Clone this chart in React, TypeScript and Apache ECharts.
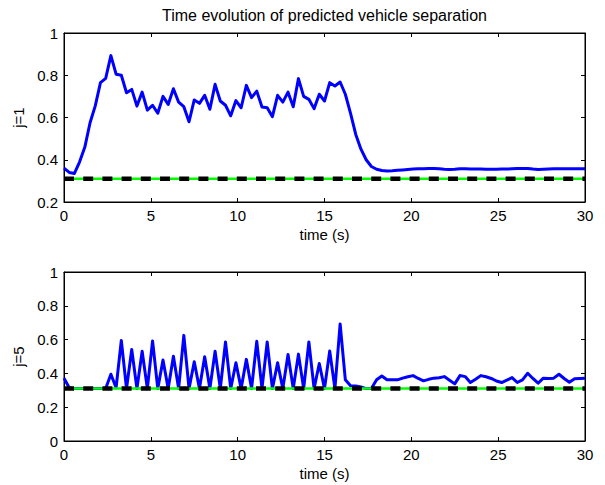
import React, { useEffect, useRef } from "react";
import * as echarts from "echarts";

const titleText = "Time evolution of predicted vehicle separation";
const xName = "time (s)";
const yNameTop = "j=1";
const yNameBottom = "j=5";
const refLevel = 0.31;

const time = [
  0, 0.3, 0.6, 0.9, 1.2, 1.5, 1.8, 2.1, 2.4, 2.7,
  3, 3.3, 3.6, 3.9, 4.2, 4.5, 4.8, 5.1, 5.4, 5.7,
  6, 6.3, 6.6, 6.9, 7.2, 7.5, 7.8, 8.1, 8.4, 8.7,
  9, 9.3, 9.6, 9.9, 10.2, 10.5, 10.8, 11.1, 11.4, 11.7,
  12, 12.3, 12.6, 12.9, 13.2, 13.5, 13.8, 14.1, 14.4, 14.7,
  15, 15.3, 15.6, 15.9, 16.2, 16.5, 16.8, 17.1, 17.4, 17.7,
  18, 18.3, 18.6, 18.9, 19.2, 19.5, 19.8, 20.1, 20.4, 20.7,
  21, 21.3, 21.6, 21.9, 22.2, 22.5, 22.8, 23.1, 23.4, 23.7,
  24, 24.3, 24.6, 24.9, 25.2, 25.5, 25.8, 26.1, 26.4, 26.7,
  27, 27.3, 27.6, 27.9, 28.2, 28.5, 28.8, 29.1, 29.4, 29.7,
  30,
];

const sepJ1 = [
  0.36, 0.34, 0.335, 0.39, 0.46, 0.575, 0.655, 0.765, 0.785, 0.893,
  0.805, 0.8, 0.717, 0.733, 0.654, 0.72, 0.635, 0.658, 0.62, 0.7,
  0.662, 0.736, 0.673, 0.651, 0.58, 0.683, 0.667, 0.705, 0.639, 0.757,
  0.678, 0.658, 0.608, 0.68, 0.646, 0.752, 0.694, 0.725, 0.65, 0.646,
  0.604, 0.705, 0.673, 0.72, 0.651, 0.784, 0.7, 0.686, 0.642, 0.71,
  0.678, 0.765, 0.749, 0.768, 0.71, 0.62, 0.52, 0.45, 0.4, 0.368,
  0.355, 0.349, 0.347, 0.348, 0.35, 0.352, 0.354, 0.356, 0.357, 0.357,
  0.358, 0.358, 0.357, 0.355, 0.354, 0.355, 0.357, 0.357, 0.356, 0.356,
  0.356, 0.355, 0.355, 0.355, 0.356, 0.356, 0.357, 0.358, 0.359, 0.359,
  0.356, 0.354, 0.355, 0.356, 0.357, 0.357, 0.357, 0.357, 0.357, 0.357,
  0.357,
];

const sepJ5 = [
  0.372, 0.315, 0.31, 0.31, 0.31, 0.31, 0.31, 0.31, 0.31, 0.395,
  0.315, 0.595, 0.31, 0.541, 0.31, 0.531, 0.31, 0.592, 0.31, 0.479,
  0.31, 0.502, 0.31, 0.625, 0.31, 0.469, 0.31, 0.498, 0.31, 0.531,
  0.31, 0.586, 0.31, 0.463, 0.31, 0.483, 0.31, 0.59, 0.31, 0.586,
  0.31, 0.463, 0.31, 0.512, 0.31, 0.514, 0.31, 0.586, 0.31, 0.459,
  0.31, 0.533, 0.31, 0.693, 0.362, 0.327, 0.325, 0.32, 0.31, 0.31,
  0.362, 0.385, 0.362, 0.362, 0.362, 0.372, 0.38, 0.387, 0.37, 0.356,
  0.365, 0.372, 0.374, 0.381, 0.36, 0.338, 0.387, 0.381, 0.346, 0.365,
  0.387, 0.38, 0.37, 0.355, 0.346, 0.36, 0.375, 0.346, 0.362, 0.401,
  0.37, 0.342, 0.372, 0.37, 0.372, 0.395, 0.37, 0.348, 0.368, 0.37,
  0.372,
];

const FONT = "Liberation Sans";
const FS = 15;

function xAxes(gridIndex: number) {
  const base = {
    gridIndex,
    type: "value" as const,
    min: 0,
    max: 30,
    interval: 5,
    splitLine: { show: false },
    axisLine: { show: true, onZero: false, lineStyle: { color: "#000", width: 1 } },
    axisTick: { show: true, inside: true, length: 4, lineStyle: { color: "#000" } },
  };
  return [
    {
      ...base,
      position: "bottom",
      axisLabel: { show: true, color: "#000", fontSize: FS, fontFamily: FONT, margin: 6 },
      name: xName,
      nameLocation: "middle",
      nameGap: 25,
      nameTextStyle: { color: "#000", fontSize: FS, fontFamily: FONT },
    },
    { ...base, position: "top", axisLabel: { show: false } },
  ];
}

function yAxes(gridIndex: number, min: number, name: string) {
  const base = {
    gridIndex,
    type: "value" as const,
    min,
    max: 1,
    interval: 0.2,
    splitLine: { show: false },
    axisLine: { show: true, onZero: false, lineStyle: { color: "#000", width: 1 } },
    axisTick: { show: true, inside: true, length: 4, lineStyle: { color: "#000" } },
  };
  return [
    {
      ...base,
      position: "left",
      axisLabel: { show: true, color: "#000", fontSize: FS, fontFamily: FONT, margin: 6 },
      name,
      nameLocation: "middle",
      nameGap: 34,
      nameTextStyle: { color: "#000", fontSize: FS, fontFamily: FONT },
    },
    { ...base, position: "right", axisLabel: { show: false } },
  ];
}

function seriesFor(idx: number, values: number[]) {
  const xAxisIndex = idx * 2;
  const yAxisIndex = idx * 2;
  const refData = [
    [time[0], refLevel],
    [time[time.length - 1], refLevel],
  ];
  return [
    {
      type: "line",
      xAxisIndex,
      yAxisIndex,
      data: time.map((t, i) => [t, values[i]]),
      showSymbol: false,
      symbol: "none",
      lineStyle: { color: "#0000ff", width: 3, join: "round" },
      clip: true,
      z: 2,
    },
    {
      type: "line",
      xAxisIndex,
      yAxisIndex,
      data: refData,
      showSymbol: false,
      symbol: "none",
      lineStyle: { color: "#00ff00", width: 2.5 },
      z: 3,
    },
    {
      type: "line",
      xAxisIndex,
      yAxisIndex,
      data: refData,
      showSymbol: false,
      symbol: "none",
      lineStyle: { color: "#000000", width: 4.5, type: [10, 9.2], cap: "butt" },
      z: 4,
    },
  ];
}

export default function App() {
  const ref = useRef<HTMLDivElement>(null);
  useEffect(() => {
    if (!ref.current) return;
    const chart = echarts.init(ref.current, null, { renderer: "svg" });
    chart.setOption({
      animation: false,
      backgroundColor: "#ffffff",
      textStyle: { fontFamily: FONT },
      title: {
        text: titleText,
        left: 324.5,
        top: 7,
        padding: 0,
        textAlign: "center",
        textStyle: { color: "#000", fontSize: 16, fontWeight: "normal", fontFamily: FONT },
      },
      grid: [
        { left: 64, top: 33, width: 521, height: 169, show: true, borderColor: "#000", borderWidth: 1, backgroundColor: "transparent" },
        { left: 64, top: 272, width: 521, height: 169, show: true, borderColor: "#000", borderWidth: 1, backgroundColor: "transparent" },
      ],
      xAxis: [...xAxes(0), ...xAxes(1)],
      yAxis: [...yAxes(0, 0.2, yNameTop), ...yAxes(1, 0, yNameBottom)],
      series: [...seriesFor(0, sepJ1), ...seriesFor(1, sepJ5)],
    });
    return () => chart.dispose();
  }, []);
  return (
    <div
      ref={ref}
      style={{ position: "fixed", left: 0, top: 0, width: 605, height: 485 }}
    />
  );
}
